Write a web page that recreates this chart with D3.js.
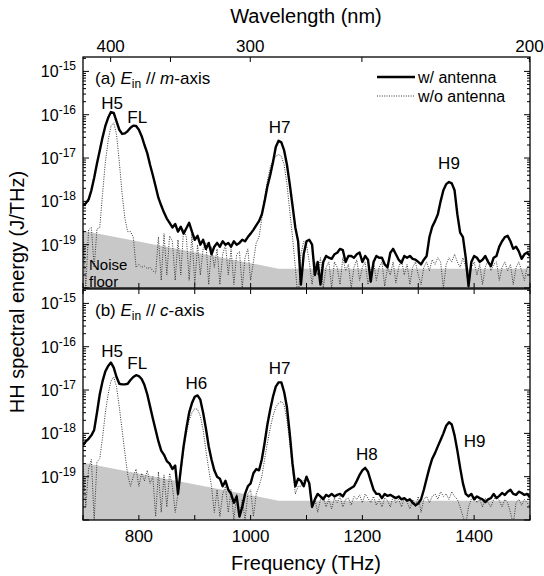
<!DOCTYPE html>
<html><head><meta charset="utf-8">
<script src="https://cdn.jsdelivr.net/npm/d3@7"></script>
<style>html,body{margin:0;padding:0;background:#fff}svg{display:block;font-family:"Liberation Sans",Arial,sans-serif}</style>
</head><body><svg id="c" width="544" height="576"></svg>
<script>
const freq = [700,705,710,715,720,725,730,735,740,745,750,755,760,765,770,775,780,785,790,795,800,805,810,815,820,825,830,835,840,845,850,855,860,865,870,875,880,885,890,895,900,905,910,915,920,925,930,935,940,945,950,955,960,965,970,975,980,985,990,995,1000,1005,1010,1015,1020,1025,1030,1035,1040,1045,1050,1055,1060,1065,1070,1075,1080,1085,1090,1095,1100,1105,1110,1115,1120,1125,1130,1135,1140,1145,1150,1155,1160,1165,1170,1175,1180,1185,1190,1195,1200,1205,1210,1215,1220,1225,1230,1235,1240,1245,1250,1255,1260,1265,1270,1275,1280,1285,1290,1295,1300,1305,1310,1315,1320,1325,1330,1335,1340,1345,1350,1355,1360,1365,1370,1375,1380,1385,1390,1395,1400,1405,1410,1415,1420,1425,1430,1435,1440,1445,1450,1455,1460,1465,1470,1475,1480,1485,1490,1495,1500];

// (a) E // m-axis, with antenna
const aWith = [8e-19,9e-19,1.1e-18,1.8e-18,3.5e-18,7.5e-18,1.5e-17,3e-17,5.5e-17,8.5e-17,
1.15e-16,1.1e-16,7e-17,4.5e-17,3.6e-17,3.7e-17,4.2e-17,5e-17,5.6e-17,5.5e-17,
4.5e-17,3.2e-17,2e-17,1.3e-17,7e-18,4e-18,2.2e-18,1.2e-18,8e-19,5.5e-19,
4e-19,3.2e-19,2.5e-19,3e-19,2e-19,2.6e-19,1.8e-19,2.4e-19,3.2e-19,2e-19,
1.3e-19,1.6e-19,1e-19,1.3e-19,8e-20,1.1e-19,6e-20,9e-20,1.1e-19,9e-20,
1.2e-19,1e-19,1.1e-19,9e-20,1.2e-19,1e-19,1.1e-19,1.3e-19,1.2e-19,1.5e-19,
1.8e-19,2.2e-19,2.8e-19,3.5e-19,5e-19,1e-18,2.2e-18,4e-18,8e-18,1.8e-17,
2.5e-17,2.3e-17,1.5e-17,7e-18,2.5e-18,8e-19,2.5e-19,1.2e-19,1.2e-20,6e-20,
1.2e-19,1.3e-19,1e-19,2e-20,4e-20,1.2e-20,4e-20,5.5e-20,5e-20,4.7e-20,
6e-20,6.5e-20,8e-20,7.5e-20,4e-20,5.5e-20,5.5e-20,5e-20,6e-20,6.6e-20,
4e-20,5.5e-20,4.5e-20,1.4e-20,4e-20,5.5e-20,5e-20,5e-20,3.5e-20,3e-20,
6.5e-20,8e-20,6e-20,4.5e-20,3.8e-20,5.5e-20,5e-20,5.5e-20,4.7e-20,4.5e-20,
4e-20,3.5e-20,4.5e-20,5.5e-20,1.5e-19,2.6e-19,3.5e-19,5e-19,1e-18,1.8e-18,
2.5e-18,2.8e-18,2.6e-18,1.8e-18,5e-19,1.9e-19,1.5e-19,5e-20,1.1e-20,4e-20,
5.5e-20,5e-20,4e-20,4.5e-20,5.5e-20,4e-20,3.2e-20,5e-20,5.5e-20,9e-20,
1.2e-19,1.5e-19,1.6e-19,1.2e-19,8e-20,9e-20,7e-20,4.7e-20,6e-20,6.6e-20,
5.5e-20];
// (a) without antenna
const aWithout = [2.2e-19,1e-20,2.2e-19,2.5e-19,3e-20,2.3e-19,2.5e-19,1.5e-18,8e-18,2.5e-17,
5.5e-17,6.5e-17,3.5e-17,8e-18,1.5e-18,4e-19,2e-19,2e-19,1.5e-19,3e-20,
3.5e-20,3e-20,3.2e-20,2.8e-20,3e-20,2.5e-20,2.2e-20,1.5e-19,1.5e-20,1.8e-19,
2e-20,1.6e-19,1.2e-19,1.5e-20,1.3e-19,2e-20,2.2e-19,1.5e-19,1.5e-20,1.8e-19,
1.2e-20,1e-19,2e-20,8e-20,1.1e-19,1.2e-20,9e-20,3e-20,8e-20,1.2e-20,
6e-20,1e-19,2e-20,8e-20,1.2e-20,6e-20,7e-20,1e-20,5e-20,8e-20,
1.5e-20,4e-20,1.1e-19,1.5e-19,4e-19,1.2e-18,3e-18,6e-18,9e-18,1.1e-17,
1.2e-17,1.1e-17,7e-18,2.5e-18,6e-19,1.5e-19,3e-20,5e-21,6e-20,1.2e-19,
1e-19,4e-20,1.2e-20,4e-20,2e-20,5e-20,1e-20,3e-20,4e-20,1e-20,
4e-20,3e-20,1.2e-20,5e-20,2.5e-20,3.5e-20,1e-20,3e-20,4.5e-20,1.5e-20,
3e-20,4e-20,1.2e-20,2.5e-20,4e-20,1.5e-20,3e-20,4e-20,1.1e-20,3e-20,
2e-20,4e-20,1.3e-20,3e-20,4.5e-20,2e-20,3.5e-20,1.2e-20,3e-20,4e-20,
2e-20,1.2e-20,3e-20,4e-20,2.5e-20,4.5e-20,3.5e-20,5e-20,4e-20,1e-20,
3.5e-20,5e-20,4e-20,6e-20,4e-20,3e-20,5e-20,3e-20,1.2e-20,3e-20,
4e-20,2e-20,3.5e-20,1.2e-20,3e-20,4.5e-20,2.5e-20,3.5e-20,4e-20,1.5e-20,
3e-20,4e-20,2.5e-20,3.5e-20,1.2e-20,3e-20,4e-20,2.5e-20,1.5e-20,3e-20,
3.5e-20];
// (b) E // c-axis, with antenna
const bWith = [5.3e-19,6.5e-19,7.5e-19,9e-19,1.2e-18,3e-18,8e-18,1.6e-17,2.7e-17,3.6e-17,
4.3e-17,3.3e-17,2e-17,1.4e-17,1.35e-17,1.35e-17,1.4e-17,1.7e-17,2e-17,2.2e-17,
2.1e-17,1.8e-17,1.3e-17,8e-18,4.2e-18,2.2e-18,1.2e-18,6.5e-19,4e-19,3.2e-19,
2.3e-19,2e-19,1.5e-19,1.8e-19,4e-20,1.5e-19,5e-19,1.3e-18,3e-18,5e-18,
7e-18,7.5e-18,6e-18,3e-18,1.3e-18,5e-19,2.5e-19,1.4e-19,1e-19,9e-20,
6e-20,8e-20,5e-20,4e-20,2.5e-20,3.5e-20,1.2e-20,2e-20,4e-20,6e-20,
7e-20,1.2e-19,1.5e-19,1.4e-19,2.5e-19,6e-19,1.6e-18,3.5e-18,7e-18,1.2e-17,
1.5e-17,1.5e-17,9e-18,4e-18,1e-18,2e-19,6e-20,9e-20,8e-20,6e-20,
1e-19,7e-20,2e-20,3e-20,4e-20,3.5e-20,3e-20,3.8e-20,3.5e-20,4e-20,
3.5e-20,3.8e-20,4e-20,3.5e-20,4.5e-20,5e-20,5.5e-20,6e-20,8e-20,1.1e-19,
1.4e-19,1.6e-19,1.3e-19,8e-20,5e-20,4e-20,4e-20,3.2e-20,4e-20,3.6e-20,
3.8e-20,3.5e-20,3.2e-20,3.5e-20,3e-20,3.2e-20,2.8e-20,3e-20,2.5e-20,2.2e-20,
2.4e-20,3e-20,5e-20,9e-20,1.6e-19,2.6e-19,3.5e-19,5e-19,7e-19,1e-18,
1.5e-18,1.8e-18,1.6e-18,9e-19,4e-19,1.6e-19,7e-20,4e-20,3.5e-20,4e-20,
3e-20,3.5e-20,3.2e-20,3e-20,2.6e-20,3e-20,3.2e-20,4e-20,3.2e-20,3.6e-20,
4.2e-20,3.8e-20,4.5e-20,5e-20,4e-20,3.8e-20,4.5e-20,4.2e-20,3.8e-20,4e-20,
3.3e-20];
// (b) without antenna
const bWithout = [2e-19,2e-20,1.5e-19,2.5e-19,1e-20,2.2e-19,2.6e-19,8e-19,3e-18,8e-18,
1.6e-17,2e-17,1.2e-17,4e-18,1.2e-18,3.5e-19,1.1e-19,6e-20,1e-19,1.5e-19,
6e-20,1.2e-19,8e-20,1.4e-19,7e-20,1e-19,1.2e-20,1.3e-19,1.5e-20,1.1e-19,
2e-20,1.2e-19,6e-20,1.5e-20,4e-20,1.2e-19,4e-19,1e-18,2e-18,3e-18,
3.7e-18,3.6e-18,2.5e-18,1.2e-18,4e-19,1.5e-19,6e-20,1.5e-20,5e-20,1.2e-20,
4e-20,6e-20,1.5e-20,5e-20,1e-20,4e-20,1.2e-20,3e-20,1e-20,4e-20,
5e-20,1.2e-20,4e-20,6e-20,1e-19,2.5e-19,6e-19,1.3e-18,2.5e-18,4e-18,
5e-18,5.5e-18,4.5e-18,2e-18,6e-19,1.5e-19,4e-20,6e-20,6e-20,8e-20,
1e-19,6e-20,2e-20,3e-20,1.5e-20,3e-20,3.5e-20,2e-20,3e-20,1.8e-20,
3.2e-20,2.5e-20,3.5e-20,2e-20,3e-20,3.2e-20,2.2e-20,3.5e-20,3e-20,3.8e-20,
2.5e-20,4e-20,3.2e-20,2.5e-20,3.5e-20,2.2e-20,3e-20,2e-20,3.2e-20,2.8e-20,
2e-20,3.5e-20,2.5e-20,3e-20,2e-20,3.2e-20,2.6e-20,1.8e-20,3e-20,2e-20,
3.5e-20,1.5e-20,3e-20,3.5e-20,2.5e-20,3.5e-20,4e-20,3e-20,4.5e-20,3.5e-20,
4e-20,3e-20,4.5e-20,3.5e-20,3e-20,2e-20,1.2e-20,8e-21,2e-20,3e-20,
3.5e-20,2.5e-20,3e-20,2e-20,3.2e-20,2.5e-20,2e-20,3e-20,3.5e-20,2.8e-20,
2e-20,3e-20,2.5e-20,1.5e-20,8e-21,2.5e-20,3e-20,2.2e-20,3e-20,2.5e-20,
2e-20];

const noiseFreq = [700, 1050, 1500];
const noiseLevel = [2.1e-19, 2.8e-20, 2.8e-20];

const wlTicks = [400, 350, 300, 250, 200];
const wlLabels = [400, 300, 200];
const freqTicks = [700, 800, 900, 1000, 1100, 1200, 1300, 1400, 1500];
const freqLabels = [800, 1000, 1200, 1400];
const decades = [-15, -16, -17, -18, -19];

const peaksA = [["H5", 752, 103], ["FL", 797, 117], ["H7", 1052, 127], ["H9", 1355, 163]];
const peaksB = [["H5", 752, 351], ["FL", 797, 363], ["H6", 903, 383], ["H7", 1052, 368], ["H8", 1208, 454], ["H9", 1401, 441]];

const svg = d3.select("#c");
const L = 83, R = 530;
const x = d3.scaleLinear().domain([700, 1500]).range([L, R]);
const yDom = [1e-20, 2.15e-15];
const panels = [
  {top: 57, bot: 288, w: aWith, wo: aWithout, peaks: peaksA, tag: "(a) ", axis: "m"},
  {top: 289, bot: 520, w: bWith, wo: bWithout, peaks: peaksB, tag: "(b) ", axis: "c"}
];

panels.forEach((p, i) => {
  const y = d3.scaleLog().domain(yDom).range([p.bot, p.top]);
  const cid = "clip" + i;
  svg.append("clipPath").attr("id", cid).append("rect")
    .attr("x", L).attr("y", p.top).attr("width", R - L).attr("height", p.bot - p.top);
  const g = svg.append("g").attr("clip-path", `url(#${cid})`);
  const nd = noiseFreq.map((f, k) => [f, noiseLevel[k]]);
  g.append("path").datum(nd)
    .attr("d", d3.area().x(d => x(d[0])).y0(p.bot).y1(d => y(d[1])))
    .attr("fill", "#c8c8c8");
  const line = d3.line().x(d => x(d[0])).y(d => y(Math.max(d[1], 1e-22)));
  g.append("path").datum(freq.map((f, k) => [f, p.wo[k]]))
    .attr("d", line).attr("fill", "none").attr("stroke", "#333")
    .attr("stroke-width", 1).attr("stroke-dasharray", "1,1.4");
  g.append("path").datum(freq.map((f, k) => [f, p.w[k]]))
    .attr("d", line).attr("fill", "none").attr("stroke", "#000")
    .attr("stroke-width", 2.4).attr("stroke-linejoin", "round");

  svg.append("rect").attr("x", L).attr("y", p.top).attr("width", R - L).attr("height", p.bot - p.top)
    .attr("fill", "none").attr("stroke", "#000").attr("stroke-width", 1.3);

  const yt = svg.append("g").attr("stroke", "#000").attr("stroke-width", 1);
  for (let e = -20; e <= -15; e++) {
    for (let m = 1; m <= 9; m++) {
      const v = m * Math.pow(10, e);
      if (v < yDom[0] || v > yDom[1]) continue;
      const yy = y(v), len = m === 1 ? 6 : 3;
      yt.append("line").attr("x1", L).attr("x2", L + len).attr("y1", yy).attr("y2", yy);
      yt.append("line").attr("x1", R).attr("x2", R - len).attr("y1", yy).attr("y2", yy);
    }
  }
  decades.forEach(e => {
    const t = svg.append("text").attr("x", 76).attr("y", y(Math.pow(10, e)) + 6)
      .attr("text-anchor", "end").attr("font-size", 16).attr("fill", "#000");
    t.append("tspan").text("10");
    t.append("tspan").attr("dy", -7).attr("font-size", 12).text(String(e));
  });

  const ft = svg.append("g").attr("stroke", "#000").attr("stroke-width", 1);
  freqTicks.forEach(f => {
    ft.append("line").attr("x1", x(f)).attr("x2", x(f)).attr("y1", p.bot).attr("y2", p.bot - 5);
    if (i === 1) ft.append("line").attr("x1", x(f)).attr("x2", x(f)).attr("y1", p.top).attr("y2", p.top + 5);
  });

  const tt = svg.append("text").attr("x", 95).attr("y", p.top + 27).attr("font-size", 17).attr("fill", "#000");
  tt.append("tspan").text(p.tag);
  tt.append("tspan").attr("font-style", "italic").text("E");
  tt.append("tspan").attr("font-size", 12).attr("dy", 4).text("in");
  tt.append("tspan").attr("dy", -4).text(" // ");
  tt.append("tspan").attr("font-style", "italic").text(p.axis);
  tt.append("tspan").text("-axis");

  p.peaks.forEach(([s, f, yy]) => {
    svg.append("text").attr("x", x(f)).attr("y", yy + 6).attr("text-anchor", "middle")
      .attr("font-size", 17).attr("fill", "#000").text(s);
  });
});

const c = 299792.458;
const wt = svg.append("g").attr("stroke", "#000").attr("stroke-width", 1);
wlTicks.forEach(w => {
  wt.append("line").attr("x1", x(c / w)).attr("x2", x(c / w)).attr("y1", 57).attr("y2", 62);
});
wlLabels.forEach(w => {
  svg.append("text").attr("x", x(c / w)).attr("y", 52).attr("text-anchor", "middle")
    .attr("font-size", 17).text(w);
});
svg.append("text").attr("x", 306).attr("y", 23).attr("text-anchor", "middle")
  .attr("font-size", 20).text("Wavelength (nm)");

freqLabels.forEach(f => {
  svg.append("text").attr("x", x(f)).attr("y", 542).attr("text-anchor", "middle")
    .attr("font-size", 17).text(f);
});
svg.append("text").attr("x", 306).attr("y", 570).attr("text-anchor", "middle")
  .attr("font-size", 20).text("Frequency (THz)");
svg.append("text").attr("transform", "translate(24,292) rotate(-90)").attr("text-anchor", "middle")
  .attr("font-size", 20).text("HH spectral energy (J/THz)");

svg.append("text").attr("x", 89).attr("y", 270).attr("font-size", 15).text("Noise");
svg.append("text").attr("x", 89).attr("y", 287).attr("font-size", 15).text("floor");

// legend
svg.append("line").attr("x1", 377).attr("x2", 415).attr("y1", 77).attr("y2", 77)
  .attr("stroke", "#000").attr("stroke-width", 2.4);
svg.append("line").attr("x1", 377).attr("x2", 415).attr("y1", 96).attr("y2", 96)
  .attr("stroke", "#333").attr("stroke-width", 1).attr("stroke-dasharray", "1,1.4");
svg.append("text").attr("x", 418).attr("y", 82.5).attr("font-size", 16).text("w/ antenna");
svg.append("text").attr("x", 418).attr("y", 101.5).attr("font-size", 16).text("w/o antenna");
</script></body></html>
